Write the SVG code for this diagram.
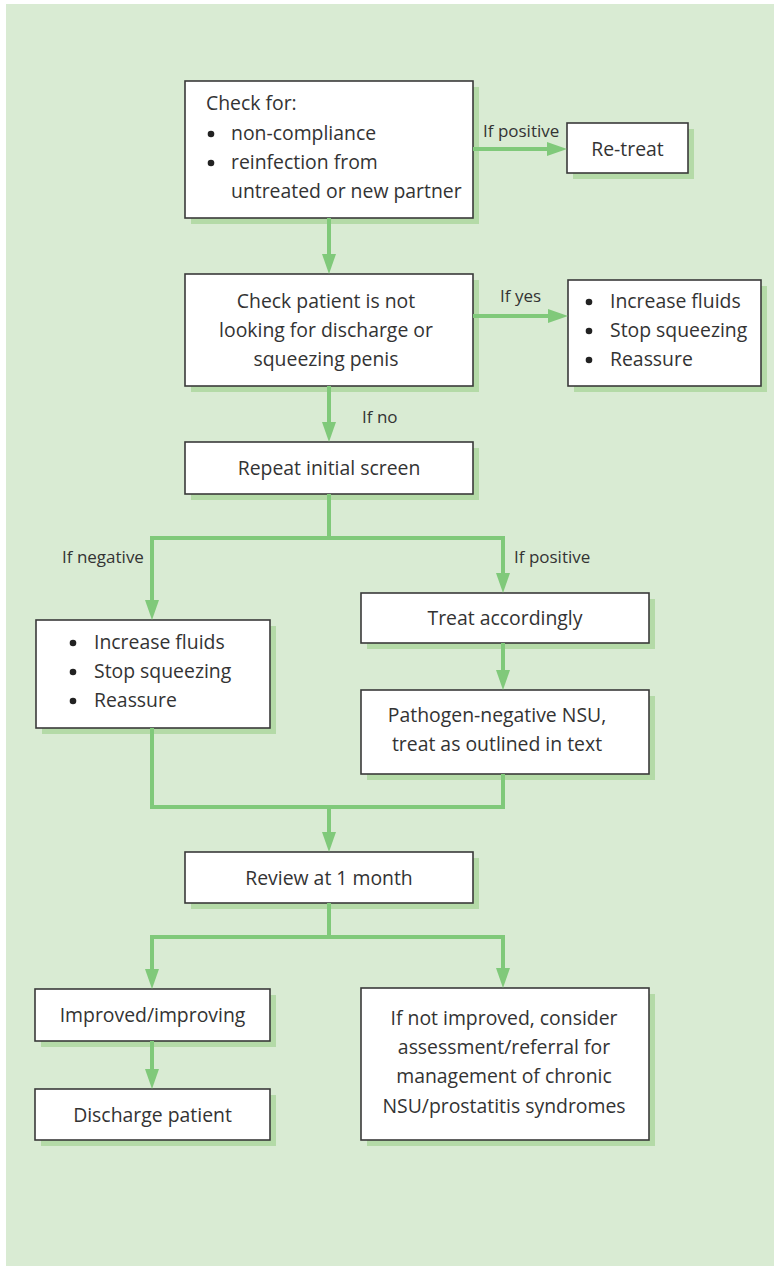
<svg xmlns="http://www.w3.org/2000/svg" width="774" height="1267" viewBox="0 0 774 1267">
<defs>
<style>
.bg{fill:#d9ebd3}
.sh{fill:#b4daa7}
.box{fill:#ffffff;stroke:#3a3a3a;stroke-width:1.6}
.t{font-family:"Open Sans","Noto Sans",sans-serif;font-size:19.4px;fill:#333333}
.c{text-anchor:middle}
.b{fill:#222222}
.lbl{font-family:"Open Sans","Noto Sans",sans-serif;font-size:17px;fill:#333333}
.con{fill:none;stroke:#80c97a;stroke-width:4;stroke-linejoin:miter}
.arr{marker-end:url(#ah)}
</style>
<marker id="ah" markerUnits="userSpaceOnUse" markerWidth="20" markerHeight="14" refX="0" refY="7" orient="auto">
<path d="M0,0 L20,7 L0,14 z" fill="#80c97a"/>
</marker>
</defs>
<rect class="bg" x="6" y="4" width="768" height="1262"/>

<g id="n1">
<rect class="sh" x="191" y="87" width="288" height="137"/>
<rect class="box" x="185" y="81" width="288" height="137"/>
<text class="t" x="206" y="110">Check for:</text>
<circle class="b" cx="211" cy="134" r="3.3"/><text class="t" x="231" y="140">non-compliance</text>
<circle class="b" cx="211" cy="163" r="3.3"/><text class="t" x="231" y="169">reinfection from</text>
<text class="t" x="231" y="198">untreated or new partner</text>
</g>
<g id="n_retreat">
<rect class="sh" x="573" y="129" width="121" height="50"/>
<rect class="box" x="567" y="123" width="121" height="50"/>
<text class="t c" x="627.5" y="156">Re-treat</text>
</g>
<g id="n2">
<rect class="sh" x="191" y="280" width="288" height="112"/>
<rect class="box" x="185" y="274" width="288" height="112"/>
<text class="t c" x="326" y="308">Check patient is not</text>
<text class="t c" x="326" y="337">looking for discharge or</text>
<text class="t c" x="326" y="366">squeezing penis</text>
</g>
<g id="n_right2">
<rect class="sh" x="574" y="286" width="193" height="106"/>
<rect class="box" x="568" y="280" width="193" height="106"/>
<circle class="b" cx="589" cy="302" r="3.3"/><text class="t" x="610" y="308">Increase fluids</text>
<circle class="b" cx="589" cy="331" r="3.3"/><text class="t" x="610" y="337">Stop squeezing</text>
<circle class="b" cx="589" cy="360" r="3.3"/><text class="t" x="610" y="366">Reassure</text>
</g>
<g id="n3">
<rect class="sh" x="191" y="448" width="288" height="52"/>
<rect class="box" x="185" y="442" width="288" height="52"/>
<text class="t c" x="329" y="475">Repeat initial screen</text>
</g>
<g id="n_left">
<rect class="sh" x="42" y="626" width="234" height="108"/>
<rect class="box" x="36" y="620" width="234" height="108"/>
<circle class="b" cx="73" cy="643" r="3.3"/><text class="t" x="94" y="649">Increase fluids</text>
<circle class="b" cx="73" cy="672" r="3.3"/><text class="t" x="94" y="678">Stop squeezing</text>
<circle class="b" cx="73" cy="701" r="3.3"/><text class="t" x="94" y="707">Reassure</text>
</g>
<g id="n_treat">
<rect class="sh" x="367" y="599" width="288" height="50"/>
<rect class="box" x="361" y="593" width="288" height="50"/>
<text class="t c" x="505" y="625">Treat accordingly</text>
</g>
<g id="n_patho">
<rect class="sh" x="367" y="696" width="288" height="84"/>
<rect class="box" x="361" y="690" width="288" height="84"/>
<text class="t c" x="497" y="722">Pathogen-negative NSU,</text>
<text class="t c" x="497" y="751">treat as outlined in text</text>
</g>
<g id="n_review">
<rect class="sh" x="191" y="858" width="288" height="51"/>
<rect class="box" x="185" y="852" width="288" height="51"/>
<text class="t c" x="329" y="885">Review at 1 month</text>
</g>
<g id="n_improved">
<rect class="sh" x="41" y="995" width="235" height="52"/>
<rect class="box" x="35" y="989" width="235" height="52"/>
<text class="t c" x="152.5" y="1022">Improved/improving</text>
</g>
<g id="n_discharge">
<rect class="sh" x="41" y="1095" width="235" height="51"/>
<rect class="box" x="35" y="1089" width="235" height="51"/>
<text class="t c" x="152.5" y="1122">Discharge patient</text>
</g>
<g id="n_notimproved">
<rect class="sh" x="367" y="994" width="288" height="152"/>
<rect class="box" x="361" y="988" width="288" height="152"/>
<text class="t c" x="504" y="1025">If not improved, consider</text>
<text class="t c" x="504" y="1054">assessment/referral for</text>
<text class="t c" x="504" y="1083">management of chronic</text>
<text class="t c" x="504" y="1113">NSU/prostatitis syndromes</text>
</g>

<g id="connectors">
<path class="con arr" d="M329,218 V254"/>
<path class="con arr" d="M473,149 H547"/>
<path class="con arr" d="M473,316 H548"/>
<path class="con arr" d="M329,386 V422"/>
<path class="con arr" d="M329,494 V538 H152 V600"/>
<path class="con arr" d="M329,538 H503 V573"/>
<path class="con arr" d="M503,643 V670"/>
<path class="con" d="M152,728 V807 H503 V774"/>
<path class="con arr" d="M329,807 V832"/>
<path class="con arr" d="M329,903 V937 H152 V969"/>
<path class="con arr" d="M329,937 H503 V968"/>
<path class="con arr" d="M152,1041 V1069"/>
<text class="lbl" x="483" y="137">If positive</text>
<text class="lbl" x="500" y="302">If yes</text>
<text class="lbl" x="362" y="423">If no</text>
<text class="lbl" x="62" y="563">If negative</text>
<text class="lbl" x="514" y="563">If positive</text>
</g>
</svg>
